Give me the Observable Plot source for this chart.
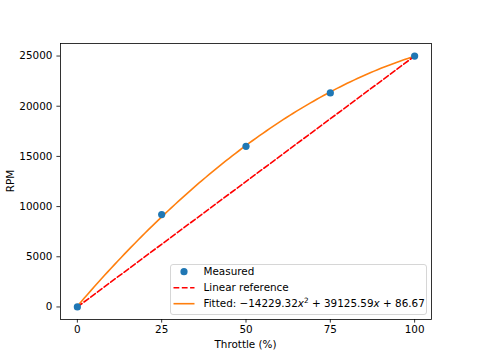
<!DOCTYPE html>
<html>
<head>
<meta charset="utf-8">
<script src="https://cdn.jsdelivr.net/npm/d3@7"></script>
<script src="https://cdn.jsdelivr.net/npm/@observablehq/plot@0.6"></script>
<style>
  html, body { margin: 0; padding: 0; background: #fff; }
  svg { display: block; }
</style>
</head>
<body>
<div id="chart"></div>
<script>
// Data
const throttle = [0, 25, 50, 75, 100];
const rpmMeasured = [0, 9200, 16000, 21330, 25000];
const linearX = [0, 100];
const linearY = [0, 25000];
// Fitted quadratic (x = throttle fraction): a*x^2 + b*x + c
const fitCoefs = [-14229.32, 39125.59, 86.67];
const xTicks = [0, 25, 50, 75, 100];
const yTicks = [0, 5000, 10000, 15000, 20000, 25000];

const measured = throttle.map((t, i) => ({x: t, y: rpmMeasured[i]}));
const linear = linearX.map((t, i) => ({x: t, y: linearY[i]}));
const fitted = d3.range(0, 101, 1).map(t => {
  const u = t / 100;
  return {x: t, y: fitCoefs[0] * u * u + fitCoefs[1] * u + fitCoefs[2]};
});

const font = "DejaVu Sans, sans-serif";
const W = 479, H = 359;
const mL = 60, mR = 48, mT = 43, mB = 40;

const svg = Plot.plot({
  width: W,
  height: H,
  marginLeft: mL,
  marginRight: mR,
  marginTop: mT,
  marginBottom: mB,
  style: {fontFamily: font, fontSize: "10.4px", background: "#fff", color: "#000"},
  x: {domain: [-5, 105]},
  y: {domain: [-1250, 26250]},
  marks: [
    Plot.line(fitted, {x: "x", y: "y", stroke: "#ff7f0e", strokeWidth: 1.6}),
    Plot.line(linear, {x: "x", y: "y", stroke: "#ff0000", strokeWidth: 1.6, strokeDasharray: "5.8,2.5"}),
    Plot.dot(measured, {x: "x", y: "y", r: 3.6, fill: "#1f77b4", stroke: "none"}),
    Plot.axisX({ticks: xTicks, tickSize: 3.6, tickPadding: 3, tickFormat: d => String(d), label: null, stroke: "#000", strokeWidth: 0.8}),
    Plot.axisY({ticks: yTicks, tickSize: 3.6, tickPadding: 4.5, tickFormat: d => String(d), label: null, stroke: "#000", strokeWidth: 0.8}),
    Plot.frame({stroke: "#000", strokeWidth: 0.8})
  ]
});

const s = d3.select(svg);
// Axis labels
s.append("text")
  .attr("x", mL + (W - mL - mR) / 2).attr("y", 348)
  .attr("text-anchor", "middle")
  .attr("font-family", font).attr("font-size", "10.4px").attr("fill", "#000")
  .text("Throttle (%)");
s.append("text")
  .attr("transform", `translate(14,${mT + (H - mT - mB) / 2}) rotate(-90)`)
  .attr("text-anchor", "middle")
  .attr("font-family", font).attr("font-size", "10.4px").attr("fill", "#000")
  .text("RPM");

// Legend
const lg = s.append("g").attr("font-family", font).attr("font-size", "10.4px").attr("text-anchor", "start");
lg.append("rect")
  .attr("x", 170.5).attr("y", 264.5).attr("width", 256).attr("height", 50)
  .attr("rx", 2.5)
  .attr("fill", "#fff").attr("fill-opacity", 0.8)
  .attr("stroke", "#cccccc").attr("stroke-width", 0.8);
const rows = [271.7, 287.7, 303.7];
lg.append("circle").attr("cx", 184).attr("cy", rows[0]).attr("r", 3.6).attr("fill", "#1f77b4");
lg.append("line").attr("x1", 173.5).attr("x2", 194.5).attr("y1", rows[1]).attr("y2", rows[1])
  .attr("stroke", "#ff0000").attr("stroke-width", 1.6).attr("stroke-dasharray", "5.8,2.5");
lg.append("line").attr("x1", 173.5).attr("x2", 194.5).attr("y1", rows[2]).attr("y2", rows[2])
  .attr("stroke", "#ff7f0e").attr("stroke-width", 1.6);
const tx = 203.5;
lg.append("text").attr("x", tx).attr("y", rows[0] + 3.7).attr("text-anchor", "start").attr("fill", "#000").text("Measured");
lg.append("text").attr("x", tx).attr("y", rows[1] + 3.7).attr("text-anchor", "start").attr("fill", "#000").text("Linear reference");
const ft = lg.append("text").attr("x", tx).attr("y", rows[2] + 3.7).attr("text-anchor", "start").attr("fill", "#000");
ft.append("tspan").text("Fitted: \u221214229.32");
ft.append("tspan").attr("font-style", "italic").text("x");
ft.append("tspan").attr("dy", -4.5).attr("font-size", "7.3px").text("2");
ft.append("tspan").attr("dy", 4.5).text(" + 39125.59");
ft.append("tspan").attr("font-style", "italic").text("x");
ft.append("tspan").text(" + 86.67");

document.getElementById("chart").appendChild(svg);
</script>
</body>
</html>
